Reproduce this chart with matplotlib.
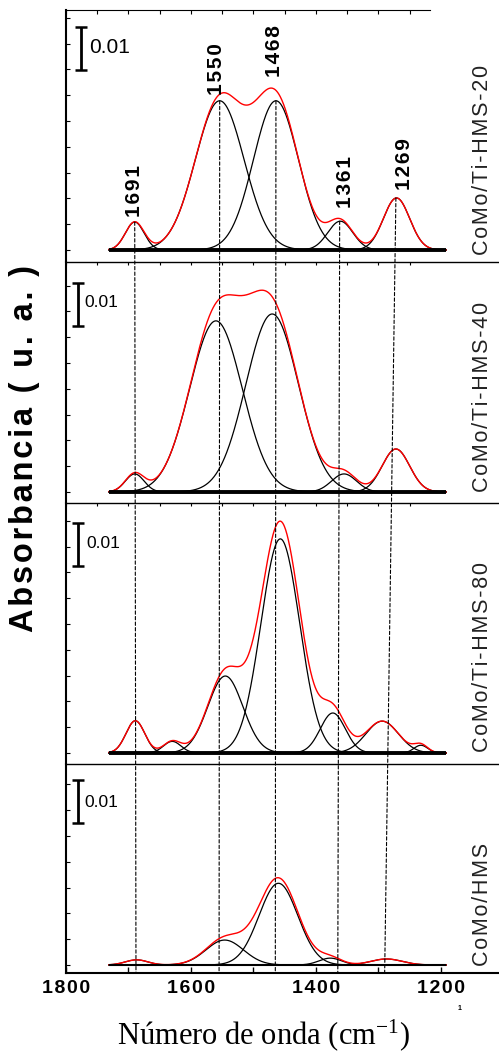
import numpy as np
import matplotlib
matplotlib.use('Agg')
import matplotlib.pyplot as plt
from matplotlib.patches import ConnectionPatch
from matplotlib.ticker import MultipleLocator, FixedLocator

plt.rcParams['font.family'] = ['Liberation Sans', 'DejaVu Sans']
plt.rcParams['mathtext.fontset'] = 'stix'

# sample names (top to bottom)
samples = ['CoMo/Ti-HMS-20', 'CoMo/Ti-HMS-40', 'CoMo/Ti-HMS-80', 'CoMo/HMS']

# fitted gaussian bands per sample: centre (cm-1), height (a.u.), sigma (cm-1)
centers_20 = [1690, 1554, 1464, 1361, 1271]
heights_20 = [0.0065, 0.0347, 0.0347, 0.0067, 0.0121]
sigmas_20 = [15, 39, 36, 20, 21]

centers_40 = [1690, 1560, 1470, 1355, 1272]
heights_40 = [0.0042, 0.0398, 0.0414, 0.0042, 0.0100]
sigmas_40 = [15, 42, 42, 20, 22]

centers_80 = [1689, 1630, 1545, 1457, 1373, 1294, 1232]
heights_80 = [0.0075, 0.0027, 0.0179, 0.0498, 0.0093, 0.0074, 0.0018]
sigmas_80 = [15, 14, 28, 31, 20, 26, 11]

centers_hms = [1687, 1546, 1460, 1377, 1287]
heights_hms = [0.0012, 0.0058, 0.0190, 0.0016, 0.0014]
sigmas_hms = [18, 30, 31, 18, 25]

# residual (spectrum minus sum of bands): centre / height / sigma
resid_center = [1470, 1470, 1460, 1480]
resid_height = [0.0, 0.0, 0.0040, 0.0013]
resid_sigma = [45, 45, 50, 50]

# marked band positions (top label, drop-line x at top and bottom)
peak_labels = ['1691', '1550', '1468', '1361', '1269']
lab_x = [1690, 1559, 1467, 1353, 1259]
lab_y = [0.0077, 0.0360, 0.0402, 0.0098, 0.0140]
drop_top = [1690, 1554, 1464, 1362, 1272]
drop_bot = [1688, 1555, 1465, 1365, 1290]

xticks_major = [1800, 1600, 1400, 1200]
xticks_minor = [1700, 1500, 1300]

bands = [
    (centers_20, heights_20, sigmas_20),
    (centers_40, heights_40, sigmas_40),
    (centers_80, heights_80, sigmas_80),
    (centers_hms, heights_hms, sigmas_hms),
]

W, H = 499, 1059
fig = plt.figure(figsize=(W / 100, H / 100), dpi=100)

# panel extents in pixels (top, bottom) and axis limits
panel_px = [(10, 262), (262, 503), (503, 764), (764, 973)]
ylims = [(-0.00279, 0.05581), (-0.00256, 0.05349), (-0.00256, 0.05814), (-0.00186, 0.04674)]
x0_px = 66
xlim = (1800, 1107)

bar_x = [1776, 1781, 1781, 1781]
bar_lo = [0.0419, 0.0386, 0.0435, 0.0330]
txt_x = [1763, 1770, 1768, 1770]
txt_y = [0.0472, 0.0440, 0.0488, 0.0379]
txt_fs = [15, 12.5, 12.5, 12.5]
name_y = [0.0209, 0.0221, 0.0223, 0.0140]
base_lw = [2.8, 2.8, 2.8, 1.5]

x = np.linspace(1731, 1192, 800)


def gauss(x, c, h, s):
    return h * np.exp(-(x - c) ** 2 / (2.0 * s ** 2))


def spaced(s):
    return '\u200a'.join(s)


axes = []
for i, (top, bot) in enumerate(panel_px):
    ax = fig.add_axes([x0_px / W, 1 - bot / H, 1 - x0_px / W, (bot - top) / H])
    ax.set_xlim(*xlim)
    ax.set_ylim(*ylims[i])
    ax.patch.set_alpha(0)
    for s in ['right', 'top']:
        ax.spines[s].set_visible(False)
    ax.spines['left'].set_linewidth(1.5)
    ax.spines['bottom'].set_linewidth(1.0)

    c, h, sg = bands[i]
    total = np.zeros_like(x)
    for cc, hh, ss in zip(c, h, sg):
        y = gauss(x, cc, hh, ss)
        total += y
        ax.plot(x, y, color='black', lw=0.9)
    total += gauss(x, resid_center[i], resid_height[i], resid_sigma[i])
    ax.plot(x, total, color='red', lw=1.0, zorder=3)
    ax.plot([x[0], x[-1]], [0, 0], color='black', lw=base_lw[i], solid_capstyle='butt', zorder=4)

    # 0.01 scale bar
    ax.errorbar([bar_x[i]], [bar_lo[i] + 0.005], yerr=0.005, fmt='none', ecolor='black',
                elinewidth=2, capsize=4, capthick=1.8)
    ax.text(txt_x[i], txt_y[i], '0.01', fontsize=txt_fs[i], va='center', ha='left')

    ax.text(1134, name_y[i], spaced(samples[i]), rotation=90, fontsize=15.5,
            color='#222222', ha='center', va='center')

    ax.yaxis.set_major_locator(MultipleLocator(0.006))
    ax.tick_params(axis='y', which='both', direction='in', length=3, width=0.8,
                   left=True, right=False, labelleft=False)
    ax.tick_params(axis='x', which='both', direction='in', top=True, bottom=False,
                   labelbottom=False, length=2, width=0.8)
    ax.xaxis.set_major_locator(FixedLocator(np.arange(1250, 1801, 50)))
    axes.append(ax)

ax1, ax4 = axes[0], axes[-1]
ax1.spines['top'].set_visible(True)
ax1.spines['top'].set_bounds(1800, 1218)
ax1.tick_params(axis='x', length=3)

# bottom panel x axis
ax4.spines['bottom'].set_linewidth(1.5)
ax4.xaxis.set_major_locator(FixedLocator(xticks_major))
ax4.xaxis.set_minor_locator(FixedLocator(xticks_minor))
ax4.tick_params(axis='x', which='both', top=False, bottom=True, labelbottom=True,
                direction='in', length=4, width=1.0, pad=5)
ax4.set_xticklabels([spaced(str(t)) for t in xticks_major],
                    fontsize=14, fontweight='bold')

# band labels on the top panel
for lab, lx, ly in zip(peak_labels, lab_x, lab_y):
    ax1.text(lx, ly, spaced(lab), rotation=90, fontsize=15, fontweight='bold',
             ha='center', va='bottom')

# dashed drop lines through all panels
for xt, xb, hh in zip(drop_top, drop_bot, heights_20):
    con = ConnectionPatch(xyA=(xt, hh), coordsA=ax1.transData,
                          xyB=(xb, ylims[-1][0]), coordsB=ax4.transData,
                          color='black', lw=0.8, linestyle=(0, (3, 2)), zorder=5)
    fig.add_artist(con)

fig.text(24.5 / W, 1 - 449 / H, spaced('Absorbancia ( u. a. )'), rotation=90,
         fontsize=23.5, fontweight='bold', ha='center', va='center')
fig.text(264 / W, 1 - 1045 / H, 'N\u00famero de onda (cm$^{\\mathregular{-1}}$)',
         fontsize=22, family=['Liberation Serif', 'DejaVu Serif'], ha='center', va='baseline')
fig.text(460 / W, 1 - 1008 / H, '1', fontsize=5, fontweight='bold', ha='center', va='center')

fig.savefig('out.png', dpi=100)
